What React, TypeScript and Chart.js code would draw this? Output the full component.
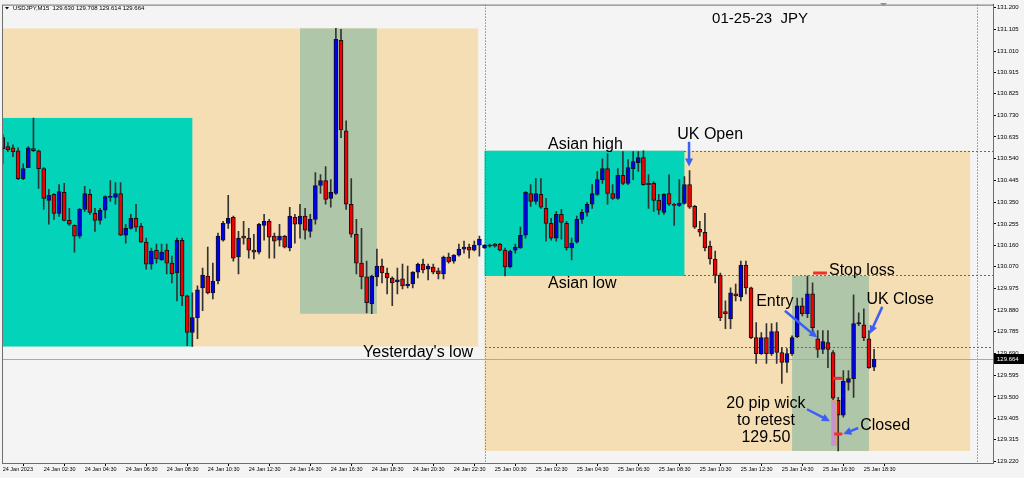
import React, { useEffect, useRef } from 'react';
import { Chart, registerables } from 'chart.js';

Chart.register(...registerables);

// ---- USDJPY M15 candles (bar 0 = 24 Jan 00:30) ----
const openPrices = [
  130.632, 130.593, 130.588, 130.575, 130.453, 130.501, 130.584, 130.575, 130.497, 130.358,
  130.384, 130.301, 130.393, 130.271, 130.249, 130.202, 130.319, 130.384, 130.301, 130.271,
  130.315, 130.371, 130.371, 130.388, 130.206, 130.236, 130.280, 130.245, 130.176, 130.080,
  130.141, 130.098, 130.141, 130.084, 130.041, 130.184, 129.941, 129.781, 129.846, 129.976,
  130.028, 129.954, 130.006, 130.184, 130.258, 130.284, 130.111, 130.202, 130.193, 130.141,
  130.132, 130.249, 130.267, 130.202, 130.184, 130.202, 130.150, 130.284, 130.254, 130.289,
  130.223, 130.275, 130.423, 130.445, 130.367, 130.388, 131.057, 130.662, 130.341, 130.210,
  130.084, 130.024, 129.906, 130.024, 130.071, 130.041, 130.019, 130.002, 130.015, 129.985,
  129.993, 130.045, 130.080, 130.058, 130.067, 130.050, 130.037, 130.111, 130.093, 130.119,
  130.145, 130.154, 130.141, 130.163, 130.150, 130.158, 130.167, 130.167, 130.141, 130.067,
  130.141, 130.150, 130.206, 130.388, 130.354, 130.384, 130.323, 130.258, 130.193, 130.297,
  130.258, 130.150, 130.176, 130.275, 130.306, 130.341, 130.384, 130.449, 130.497, 130.388,
  130.367, 130.467, 130.432, 130.497, 130.523, 130.545, 130.432, 130.432, 130.358, 130.306,
  130.388, 130.341, 130.336, 130.345, 130.427, 130.332, 130.232, 130.219, 130.158, 130.102,
  130.032, 129.872, 129.841, 129.950, 129.937, 130.076, 129.976, 129.759, 129.689, 129.759,
  129.689, 129.785, 129.694, 129.650, 129.689, 129.763, 129.898, 129.863, 129.950, 129.754,
  129.707, 129.737, 129.694, 129.485, 129.420, 129.563, 129.580, 129.820, 129.815, 129.754,
  129.630,
];
const highPrices = [
  130.645, 130.610, 130.601, 130.588, 130.518, 130.593, 130.718, 130.578, 130.501, 130.406,
  130.388, 130.427, 130.432, 130.323, 130.251, 130.323, 130.419, 130.406, 130.323, 130.323,
  130.378, 130.445, 130.436, 130.436, 130.254, 130.297, 130.341, 130.258, 130.193, 130.150,
  130.167, 130.167, 130.167, 130.115, 130.193, 130.193, 129.945, 129.954, 129.985, 130.063,
  130.154, 130.084, 130.215, 130.267, 130.380, 130.289, 130.223, 130.267, 130.236, 130.210,
  130.258, 130.297, 130.275, 130.215, 130.254, 130.206, 130.328, 130.297, 130.341, 130.323,
  130.297, 130.480, 130.471, 130.506, 130.449, 131.109, 131.105, 130.705, 130.453, 130.275,
  130.236, 130.093, 130.032, 130.145, 130.102, 130.063, 130.024, 130.063, 130.080, 130.071,
  130.047, 130.084, 130.102, 130.080, 130.080, 130.063, 130.115, 130.128, 130.121, 130.167,
  130.180, 130.167, 130.180, 130.202, 130.165, 130.167, 130.171, 130.171, 130.150, 130.141,
  130.167, 130.241, 130.397, 130.427, 130.453, 130.453, 130.367, 130.280, 130.310, 130.319,
  130.267, 130.193, 130.289, 130.319, 130.349, 130.427, 130.484, 130.540, 130.562, 130.427,
  130.497, 130.571, 130.536, 130.571, 130.571, 130.575, 130.471, 130.440, 130.384, 130.388,
  130.471, 130.345, 130.449, 130.462, 130.488, 130.336, 130.267, 130.301, 130.180, 130.137,
  130.041, 129.919, 129.976, 129.993, 130.093, 130.093, 129.980, 129.824, 129.781, 129.820,
  129.820, 129.824, 129.715, 129.711, 129.767, 129.932, 129.932, 130.028, 129.998, 129.789,
  129.789, 129.789, 129.702, 129.498, 129.615, 129.615, 129.946, 129.867, 129.885, 129.789,
  129.708,
];
const lowPrices = [
  130.518, 130.571, 130.549, 130.449, 130.449, 130.501, 130.571, 130.410, 130.319, 130.254,
  130.275, 130.288, 130.268, 130.249, 130.132, 130.193, 130.310, 130.297, 130.223, 130.254,
  130.280, 130.354, 130.341, 130.204, 130.171, 130.232, 130.223, 130.174, 130.058, 130.058,
  130.084, 130.096, 130.037, 129.998, 129.919, 129.898, 129.724, 129.720, 129.754, 129.876,
  129.950, 129.928, 129.993, 130.180, 130.236, 130.093, 130.037, 130.167, 130.106, 130.102,
  130.124, 130.184, 130.106, 130.106, 130.158, 130.150, 130.137, 130.171, 130.193, 130.189,
  130.197, 130.254, 130.388, 130.341, 130.328, 130.384, 130.632, 130.319, 130.197, 130.037,
  129.972, 129.867, 129.863, 129.985, 129.998, 129.950, 129.898, 129.950, 129.972, 129.976,
  129.976, 130.019, 130.041, 130.011, 130.037, 130.015, 130.015, 130.084, 130.084, 130.115,
  130.128, 130.106, 130.137, 130.115, 130.148, 130.154, 130.154, 130.137, 130.028, 130.063,
  130.128, 130.148, 130.193, 130.332, 130.341, 130.323, 130.180, 130.184, 130.180, 130.189,
  130.141, 130.098, 130.171, 130.258, 130.289, 130.323, 130.380, 130.432, 130.341, 130.362,
  130.362, 130.427, 130.427, 130.449, 130.484, 130.423, 130.323, 130.310, 130.297, 130.297,
  130.336, 130.249, 130.332, 130.341, 130.323, 130.236, 130.202, 130.137, 130.080, 129.998,
  129.833, 129.798, 129.798, 129.919, 129.919, 129.950, 129.754, 129.646, 129.685, 129.646,
  129.681, 129.646, 129.559, 129.607, 129.681, 129.759, 129.854, 129.846, 129.781, 129.672,
  129.689, 129.628, 129.472, 129.264, 129.411, 129.529, 129.498, 129.811, 129.746, 129.624,
  129.614,
];
const closePrices = [
  130.584, 130.580, 130.571, 130.453, 130.497, 130.588, 130.575, 130.497, 130.367, 130.380,
  130.301, 130.397, 130.271, 130.254, 130.202, 130.319, 130.388, 130.306, 130.271, 130.315,
  130.375, 130.375, 130.388, 130.206, 130.236, 130.280, 130.241, 130.176, 130.080, 130.137,
  130.102, 130.132, 130.084, 130.037, 130.184, 129.941, 129.781, 129.846, 129.967, 130.032,
  129.954, 130.006, 130.202, 130.258, 130.280, 130.106, 130.193, 130.193, 130.141, 130.132,
  130.254, 130.267, 130.197, 130.180, 130.202, 130.154, 130.289, 130.254, 130.289, 130.228,
  130.275, 130.423, 130.445, 130.362, 130.393, 131.061, 130.666, 130.341, 130.210, 130.084,
  130.024, 129.911, 130.028, 130.071, 130.041, 130.019, 129.998, 130.011, 129.985, 129.993,
  130.045, 130.080, 130.054, 130.071, 130.045, 130.037, 130.111, 130.089, 130.119, 130.145,
  130.154, 130.141, 130.163, 130.189, 130.163, 130.163, 130.158, 130.141, 130.067, 130.137,
  130.154, 130.206, 130.393, 130.354, 130.388, 130.328, 130.258, 130.193, 130.297, 130.262,
  130.150, 130.171, 130.275, 130.306, 130.341, 130.388, 130.449, 130.497, 130.388, 130.367,
  130.467, 130.432, 130.501, 130.527, 130.545, 130.427, 130.427, 130.358, 130.315, 130.384,
  130.341, 130.336, 130.345, 130.427, 130.328, 130.241, 130.219, 130.150, 130.102, 130.032,
  129.846, 129.863, 129.954, 129.941, 130.076, 129.976, 129.759, 129.689, 129.759, 129.689,
  129.785, 129.694, 129.650, 129.689, 129.759, 129.898, 129.863, 129.950, 129.802, 129.707,
  129.741, 129.707, 129.494, 129.420, 129.568, 129.580, 129.820, 129.824, 129.759, 129.628,
  129.664,
];

// ---- axes ----
const xTickIndex = [0, 8, 16, 24, 32, 40, 48, 56, 64, 72, 80, 88, 96, 104, 112, 120, 128, 136, 144, 152, 160, 168];
const xTickLabels = [
  '24 Jan 2023', '24 Jan 02:30', '24 Jan 04:30', '24 Jan 06:30', '24 Jan 08:30', '24 Jan 10:30',
  '24 Jan 12:30', '24 Jan 14:30', '24 Jan 16:30', '24 Jan 18:30', '24 Jan 20:30', '24 Jan 22:30',
  '25 Jan 00:30', '25 Jan 02:30', '25 Jan 04:30', '25 Jan 06:30', '25 Jan 08:30', '25 Jan 10:30',
  '25 Jan 12:30', '25 Jan 14:30', '25 Jan 16:30', '25 Jan 18:30',
];
const yTickLabels = [
  '131.200', '131.105', '131.010', '130.915', '130.825', '130.730', '130.635', '130.540', '130.445', '130.350', '130.255',
  '130.160', '130.070', '129.975', '129.880', '129.785', '129.690', '129.595', '129.500', '129.405', '129.315', '129.220',
];

// ---- sessions (bar index range, price range) ----
const dayFrom = [-1, 94];
const dayTo = [92.75, 188.75];
const dayHigh = [131.109, 130.575];
const dayLow = [129.72, 129.264];
const asiaFrom = [-1, 94];
const asiaTo = [37, 133];
const asiaHigh = [130.718, 130.575];
const asiaLow = [129.72, 130.028];
const londonFrom = [58, 154];
const londonTo = [73, 169];
const londonHigh = [131.109, 130.028];
const londonLow = [129.863, 129.264];

const levelPrices = [130.575, 130.032, 129.72];
const levelFrom = [133, 133, 94];
const daySeparators = [94, 190];
const bidPrice = 129.664;
const headerText = 'USDJPY,M15  129.630 129.708 129.614 129.664';

// ---- annotations ----
const noteText = ['01-25-23  JPY', 'Asian high', 'UK Open', 'Asian low', 'Stop loss', 'UK Close', 'Entry', '20 pip wick', 'to retest', '129.50', 'Closed', "Yesterday's low"];
const noteIndex = [138.4, 106.4, 131.6, 106.4, 161.2, 168.5, 147.0, 148.9, 148.9, 148.9, 167.3, 70.3];
const notePrice = [131.131, 130.584, 130.627, 129.976, 130.032, 129.904, 129.898, 129.451, 129.377, 129.303, 129.355, 129.672];
const noteCentered = [false, false, false, false, false, false, false, true, true, true, false, false];

const arrowFromIndex = [133.9, 152.6, 171.6, 156.9, 166.9];
const arrowFromPrice = [130.614, 129.876, 129.893, 129.446, 129.364];
const arrowToIndex = [133.9, 158.9, 169.2, 161.4, 164.0];
const arrowToPrice = [130.506, 129.759, 129.776, 129.394, 129.338];

const markFrom = [158.1, 162.0, 162.2];
const markTo = [160.8, 163.8, 163.8];
const markPrice = [130.041, 129.581, 129.338];

const wickBoxFrom = 161.5;
const wickBoxTo = 162.5;
const wickBoxHigh = 129.485;
const wickBoxLow = 129.29;

const BEIGE = '#f5deb3';
const CYAN = '#02d3b9';
const GREEN = '#b0c6a9';
const FONT = '"Liberation Sans", Arial, sans-serif';

const overlayPlugin = {
  id: 'overlay',
  beforeDraw(chart: any) {
    const { ctx, width, height } = chart;
    ctx.save();
    ctx.fillStyle = '#f4f4f4';
    ctx.fillRect(0, 0, width, height);
    ctx.restore();
  },
  beforeDatasetsDraw(chart: any) {
    const { ctx, chartArea: a, scales } = chart;
    const X = (v: number) => scales.x.getPixelForValue(v);
    const Y = (v: number) => scales.y.getPixelForValue(v);
    ctx.save();
    ctx.beginPath();
    ctx.rect(a.left, a.top, a.right - a.left, a.bottom - a.top);
    ctx.clip();
    const box = (i0: number, i1: number, hi: number, lo: number, c: string) => {
      ctx.fillStyle = c;
      ctx.fillRect(X(i0), Y(hi), X(i1) - X(i0), Y(lo) - Y(hi));
    };
    dayFrom.forEach((_, k) => box(dayFrom[k], dayTo[k], dayHigh[k], dayLow[k], BEIGE));
    asiaFrom.forEach((_, k) => box(asiaFrom[k], asiaTo[k], asiaHigh[k], asiaLow[k], CYAN));
    londonFrom.forEach((_, k) => box(londonFrom[k], londonTo[k], londonHigh[k], londonLow[k], GREEN));

    ctx.lineWidth = 1;
    ctx.strokeStyle = '#555';
    ctx.setLineDash([1, 2]);
    daySeparators.forEach((i) => {
      const px = Math.round(X(i)) + 0.5;
      ctx.beginPath();
      ctx.moveTo(px, a.top);
      ctx.lineTo(px, a.bottom);
      ctx.stroke();
    });
    ctx.strokeStyle = '#ff2a2a';
    ctx.setLineDash([2, 2]);
    levelPrices.forEach((p, k) => {
      const py = Math.round(Y(p)) + 0.5;
      ctx.beginPath();
      ctx.moveTo(Math.round(X(levelFrom[k])), py);
      ctx.lineTo(a.right, py);
      ctx.stroke();
    });
    ctx.setLineDash([]);
    ctx.strokeStyle = '#a9a9a9';
    const by = Math.round(Y(bidPrice)) + 0.5;
    ctx.beginPath();
    ctx.moveTo(a.left, by);
    ctx.lineTo(a.right, by);
    ctx.stroke();
    ctx.restore();
  },
  afterDatasetsDraw(chart: any) {
    const { ctx, scales } = chart;
    const X = (v: number) => scales.x.getPixelForValue(v);
    const Y = (v: number) => scales.y.getPixelForValue(v);
    ctx.save();
    // wick highlight
    ctx.fillStyle = '#c593cf';
    ctx.strokeStyle = '#d8a46a';
    ctx.lineWidth = 1;
    const wx0 = Math.round(X(wickBoxFrom)) + 0.5, wx1 = Math.round(X(wickBoxTo)) + 0.5;
    const wy0 = Math.round(Y(wickBoxHigh)) + 0.5, wy1 = Math.round(Y(wickBoxLow)) + 0.5;
    ctx.fillRect(wx0, wy0, wx1 - wx0, wy1 - wy0);
    ctx.strokeRect(wx0, wy0, wx1 - wx0, wy1 - wy0);
    // red markers
    ctx.strokeStyle = '#f03030';
    ctx.lineWidth = 3;
    markFrom.forEach((_, k) => {
      const py = Y(markPrice[k]);
      ctx.beginPath();
      ctx.moveTo(X(markFrom[k]), py);
      ctx.lineTo(X(markTo[k]), py);
      ctx.stroke();
    });
    // arrows
    ctx.strokeStyle = '#3d5ff4';
    ctx.fillStyle = '#3d5ff4';
    ctx.lineWidth = 2.5;
    arrowFromIndex.forEach((_, k) => {
      const x0 = X(arrowFromIndex[k]), y0 = Y(arrowFromPrice[k]);
      const x1 = X(arrowToIndex[k]), y1 = Y(arrowToPrice[k]);
      const ang = Math.atan2(y1 - y0, x1 - x0);
      const hl = 8, hw = 4;
      const cx = Math.cos(ang), sx = Math.sin(ang);
      ctx.beginPath();
      ctx.moveTo(x0, y0);
      ctx.lineTo(x1 - cx * hl * 0.8, y1 - sx * hl * 0.8);
      ctx.stroke();
      ctx.beginPath();
      ctx.moveTo(x1, y1);
      ctx.lineTo(x1 - cx * hl + sx * hw, y1 - sx * hl - cx * hw);
      ctx.lineTo(x1 - cx * hl - sx * hw, y1 - sx * hl + cx * hw);
      ctx.closePath();
      ctx.fill();
    });
    // texts
    ctx.fillStyle = '#000';
    ctx.textBaseline = 'alphabetic';
    noteText.forEach((t, k) => {
      ctx.font = (k === 0 ? '15px ' : '16px ') + FONT;
      ctx.textAlign = noteCentered[k] ? 'center' : 'left';
      ctx.fillText(t, X(noteIndex[k]), Y(notePrice[k]));
    });
    ctx.restore();
  },
  afterDraw(chart: any) {
    const { ctx, chartArea: a, scales } = chart;
    const Y = (v: number) => scales.y.getPixelForValue(v);
    ctx.save();
    ctx.strokeStyle = '#6e6e6e';
    ctx.lineWidth = 1;
    ctx.strokeRect(a.left + 0.5, a.top + 0.5, a.right - a.left, a.bottom - a.top);
    // bid price label
    const by = Math.round(Y(bidPrice));
    ctx.fillStyle = '#000';
    ctx.fillRect(a.right + 1, by - 5, 30, 10);
    ctx.fillStyle = '#fff';
    ctx.font = '6px ' + FONT;
    ctx.textAlign = 'left';
    ctx.textBaseline = 'middle';
    ctx.fillText(bidPrice.toFixed(3), a.right + 4, by);
    // header
    ctx.fillStyle = '#000';
    ctx.beginPath();
    ctx.moveTo(5, 7);
    ctx.lineTo(9, 7);
    ctx.lineTo(7, 9.5);
    ctx.closePath();
    ctx.fill();
    ctx.font = '6px ' + FONT;
    ctx.textBaseline = 'alphabetic';
    ctx.fillText(headerText, 13, 10);
    // chart shift marker
    ctx.fillStyle = '#8a8f98';
    ctx.beginPath();
    ctx.moveTo(880, 3);
    ctx.lineTo(887, 3);
    ctx.lineTo(883.5, 6);
    ctx.closePath();
    ctx.fill();
    ctx.restore();
  },
};

export default function App() {
  const ref = useRef<HTMLCanvasElement>(null);
  useEffect(() => {
    if (!ref.current) return;
    const bodyColors = openPrices.map((o, i) => (closePrices[i] >= o ? '#0000f0' : '#f00000'));
    const chart = new Chart(ref.current, {
      type: 'bar',
      data: {
        datasets: [
          {
            label: 'body',
            data: openPrices.map((o, i) => ({ x: i, y: [o, closePrices[i]] })) as any,
            backgroundColor: bodyColors,
            borderColor: '#111',
            borderWidth: 1,
            borderSkipped: false,
            barThickness: 4,
            minBarLength: 1,
            grouped: false,
            order: 0,
          } as any,
          {
            label: 'wick',
            data: lowPrices.map((l, i) => ({ x: i, y: [l, highPrices[i]] })) as any,
            backgroundColor: '#333',
            borderWidth: 0,
            barThickness: 1,
            grouped: false,
            order: 1,
          } as any,
        ],
      },
      options: {
        responsive: false,
        animation: false,
        devicePixelRatio: 1,
        events: [],
        layout: { padding: { left: 2, top: 2, right: 0, bottom: 0 } },
        plugins: { legend: { display: false }, tooltip: { enabled: false }, title: { display: false } },
        scales: {
          x: {
            type: 'linear',
            min: -0.137,
            max: 193.2,
            offset: false,
            grid: { drawOnChartArea: false, drawTicks: true, tickLength: 3, color: '#000' },
            border: { display: true, color: '#222' },
            ticks: {
              autoSkip: false,
              maxRotation: 0,
              minRotation: 0,
              align: 'start',
              padding: 0,
              color: '#000',
              font: { size: 5.5, family: FONT },
              callback: (_v: any, idx: number) => xTickLabels[idx],
            },
            afterBuildTicks: (scale: any) => {
              scale.ticks = xTickIndex.map((v) => ({ value: v }));
            },
            afterFit: (scale: any) => {
              scale.height = 15;
            },
          } as any,
          y: {
            type: 'linear',
            position: 'right',
            min: 129.2113,
            max: 131.213,
            grid: { drawOnChartArea: false, drawTicks: true, tickLength: 3, color: '#000' },
            border: { display: true, color: '#222' },
            ticks: {
              autoSkip: false,
              padding: 1,
              color: '#000',
              font: { size: 6, family: FONT },
              callback: (_v: any, idx: number) => yTickLabels[idx],
            },
            afterBuildTicks: (scale: any) => {
              scale.ticks = yTickLabels.map((s) => ({ value: parseFloat(s) }));
            },
            afterFit: (scale: any) => {
              scale.width = 31;
            },
          } as any,
        },
      } as any,
      plugins: [overlayPlugin],
    });
    return () => chart.destroy();
  }, []);
  return (
    <div style={{ position: 'fixed', left: 0, top: 0, width: 1024, height: 478 }}>
      <canvas ref={ref} width={1024} height={478} style={{ display: 'block', width: 1024, height: 478 }} />
    </div>
  );
}
